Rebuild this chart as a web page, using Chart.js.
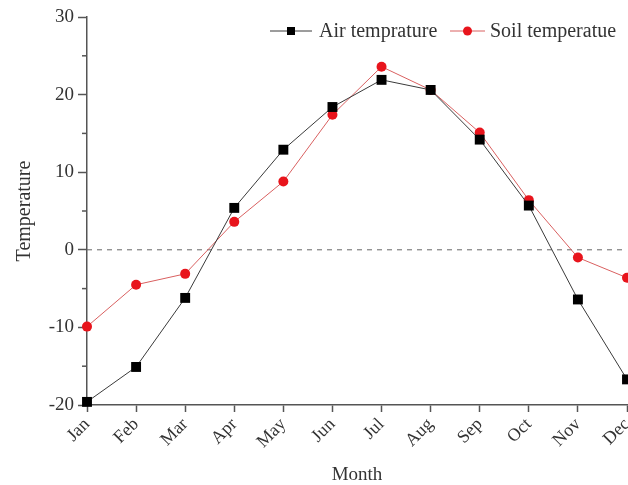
<!DOCTYPE html>
<html>
<head>
<meta charset="utf-8">
<script src="https://cdn.jsdelivr.net/npm/chart.js@4.4.1/dist/chart.umd.min.js"></script>
<style>
  html, body { margin: 0; padding: 0; background: #fff; }
  #wrap { width: 628px; height: 485px; }
</style>
</head>
<body>
<div id="wrap"><canvas id="c" width="628" height="485"></canvas></div>
<script>
const months = ['Jan','Feb','Mar','Apr','May','Jun','Jul','Aug','Sep','Oct','Nov','Dec'];
const airTemp = [-19.6, -15.1, -6.2, 5.4, 12.9, 18.4, 21.9, 20.6, 14.2, 5.7, -6.4, -16.7];
const soilTemp = [-9.9, -4.5, -3.1, 3.6, 8.8, 17.4, 23.6, 20.6, 15.1, 6.4, -1.0, -3.6];
const minorTicks = [-15, -5, 5, 15, 25];

const serif = '"Liberation Serif", "Times New Roman", serif';
const axisCol = '#555';
const textCol = '#333';

// dashed line at zero, minor y ticks and the in-plot legend
const extras = {
  id: 'extras',
  beforeDatasetsDraw(chart) {
    const {ctx, chartArea, scales} = chart;
    const y0 = scales.y.getPixelForValue(0);
    ctx.save();
    ctx.strokeStyle = '#666';
    ctx.lineWidth = 1;
    ctx.setLineDash([5, 5]);
    ctx.beginPath();
    ctx.moveTo(chartArea.left, y0);
    ctx.lineTo(chartArea.right, y0);
    ctx.stroke();
    ctx.setLineDash([]);
    ctx.strokeStyle = axisCol;
    ctx.lineWidth = 1.5;
    minorTicks.forEach(v => {
      const py = scales.y.getPixelForValue(v);
      ctx.beginPath();
      ctx.moveTo(chartArea.left - 5, py);
      ctx.lineTo(chartArea.left, py);
      ctx.stroke();
    });
    ctx.restore();
  },
  afterDraw(chart) {
    const {ctx} = chart;
    const items = [
      {ds: chart.data.datasets[0], x0: 270, x1: 312, tx: 319},
      {ds: chart.data.datasets[1], x0: 450, x1: 485, tx: 490}
    ];
    const ly = 31;
    ctx.save();
    items.forEach(it => {
      ctx.strokeStyle = it.ds.borderColor;
      ctx.lineWidth = 1;
      ctx.beginPath();
      ctx.moveTo(it.x0, ly);
      ctx.lineTo(it.x1, ly);
      ctx.stroke();
      const mx = (it.x0 + it.x1) / 2;
      ctx.fillStyle = it.ds.pointBackgroundColor;
      if (it.ds.pointStyle === 'rect') {
        ctx.fillRect(mx - 4, ly - 4, 8, 8);
      } else {
        ctx.beginPath();
        ctx.arc(mx, ly, 4.5, 0, Math.PI * 2);
        ctx.fill();
      }
      ctx.fillStyle = textCol;
      ctx.font = '20px ' + serif;
      ctx.textBaseline = 'middle';
      ctx.fillText(it.ds.label, it.tx, ly + 1);
    });
    ctx.restore();
  }
};

new Chart(document.getElementById('c'), {
  type: 'line',
  data: {
    labels: months,
    datasets: [
      {
        label: 'Air temprature', data: airTemp,
        borderColor: '#3a3a3a', borderWidth: 1,
        pointStyle: 'rect', pointRadius: 7, pointHoverRadius: 7,
        pointBackgroundColor: '#000', pointBorderColor: '#000', pointBorderWidth: 0,
        tension: 0
      },
      {
        label: 'Soil temperatue', data: soilTemp,
        borderColor: '#d96060', borderWidth: 1,
        pointStyle: 'circle', pointRadius: 5, pointHoverRadius: 5,
        pointBackgroundColor: '#e8141c', pointBorderColor: '#e8141c', pointBorderWidth: 0,
        tension: 0
      }
    ]
  },
  options: {
    responsive: false,
    animation: false,
    clip: false,
    layout: { autoPadding: false, padding: { top: 17, right: 1, left: 0, bottom: 0 } },
    plugins: { legend: { display: false }, tooltip: { enabled: false } },
    scales: {
      x: {
        offset: false,
        grid: { drawOnChartArea: false, tickLength: 7, tickColor: axisCol, tickWidth: 1.5 },
        border: { color: axisCol, width: 1.5 },
        ticks: {
          color: textCol, font: { family: serif, size: 18 },
          maxRotation: 45, minRotation: 45, padding: 2, autoSkip: false
        },
        title: { display: true, text: 'Month', color: textCol, font: { family: serif, size: 19, lineHeight: 1 }, padding: { top: 4, bottom: 0 } },
        afterFit(s) { s.height = 80; s.paddingRight = 0; s.paddingLeft = 0; }
      },
      y: {
        min: -20, max: 30,
        grid: { drawOnChartArea: false, tickLength: 9, tickColor: axisCol, tickWidth: 1.5 },
        border: { color: axisCol, width: 1.5 },
        ticks: {
          stepSize: 10, color: textCol, font: { family: serif, size: 19 }, padding: 4
        },
        title: { display: true, text: 'Temperature', color: textCol, font: { family: serif, size: 20 }, padding: { top: 13, bottom: 0 } },
        afterFit(s) { s.width = 87; s.paddingTop = 0; s.paddingBottom = 0; }
      }
    }
  },
  plugins: [extras]
});
</script>
</body>
</html>
